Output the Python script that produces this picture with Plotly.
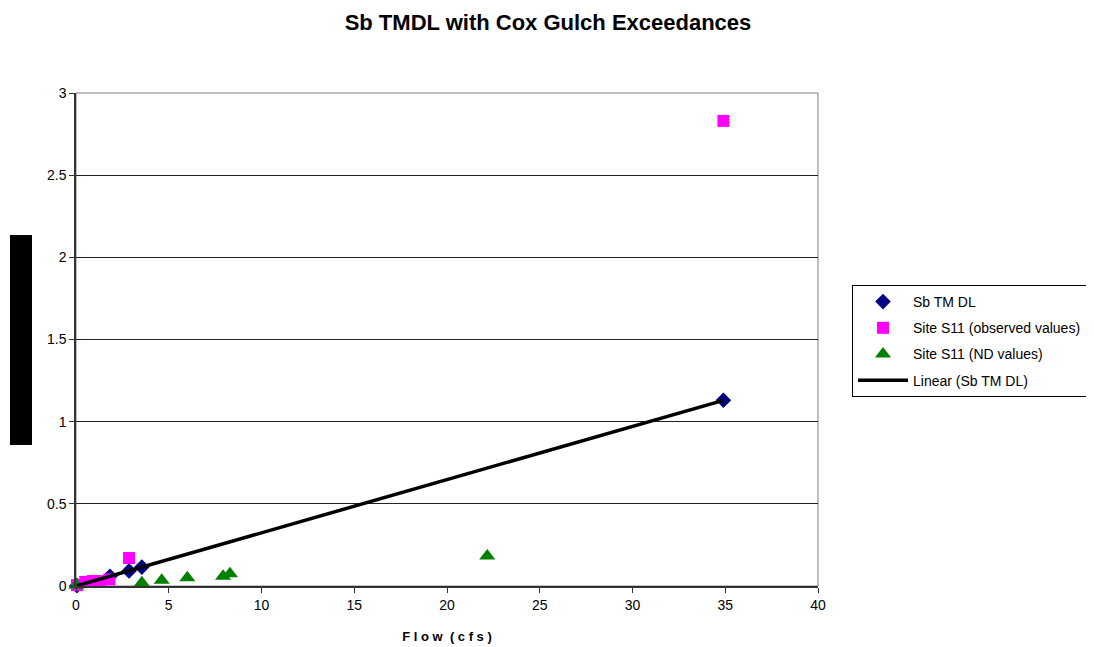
import numpy as np
import plotly.graph_objects as go

# ---- data ----
tmdl_flow = [0.05, 1.83, 2.86, 3.55, 34.9]
tmdl_load = [0.002, 0.059, 0.092, 0.115, 1.13]

obs_flow = [0.05, 0.5, 0.9, 1.3, 1.8, 2.86, 34.9]
obs_load = [0.005, 0.025, 0.03, 0.03, 0.04, 0.17, 2.83]

nd_flow = [0.02, 3.55, 4.62, 6.0, 7.93, 8.3, 22.17]
nd_load = [0.005, 0.02, 0.035, 0.05, 0.06, 0.075, 0.183]

x_ticks = [0, 5, 10, 15, 20, 25, 30, 35, 40]
y_ticks = [0, 0.5, 1, 1.5, 2, 2.5, 3]
y_tick_labels = ["0", "0.5", "1", "1.5", "2", "2.5", "3"]

# linear trendline of the TMDL series
slope, intercept = np.polyfit(tmdl_flow, tmdl_load, 1)
trend_x = [min(tmdl_flow), max(tmdl_flow)]
trend_y = [slope * v + intercept for v in trend_x]

FONT = "Arial, Liberation Sans, sans-serif"

# page offset of the plot (browser body margin of 8 px)
OFF = 8
W, H = 1094, 647
PL, PR, PT, PB = 76 - OFF, 818 - OFF, 93 - OFF, 586 - OFF
PW, PH = PR - PL, PB - PT

fig = go.Figure()
fig.add_trace(go.Scatter(x=tmdl_flow, y=tmdl_load, mode="markers", name="Sb TM DL",
                         marker=dict(symbol="diamond", size=12, color="#000080"),
                         cliponaxis=False, legendgroup="a"))
fig.add_trace(go.Scatter(x=obs_flow, y=obs_load, mode="markers", name="Site S11 (observed values)",
                         marker=dict(symbol="square", size=12, color="#FF00FF"),
                         cliponaxis=False, legendgroup="b"))
fig.add_trace(go.Scatter(x=nd_flow, y=nd_load, mode="markers", name="Site S11 (ND values)",
                         marker=dict(symbol="triangle-up", size=14, color="#008000"),
                         cliponaxis=False, legendgroup="c"))
fig.add_trace(go.Scatter(x=trend_x, y=trend_y, mode="lines", name="Linear (Sb TM DL)",
                         line=dict(color="black", width=3.5),
                         cliponaxis=False, legendgroup="d"))

fig.update_layout(
    width=W, height=H,
    paper_bgcolor="white", plot_bgcolor="white",
    margin=dict(l=PL, r=W - PR, t=PT, b=H - PB, autoexpand=False),
    font=dict(family=FONT, size=14, color="black"),
    title=dict(text="<b>Sb TMDL with Cox Gulch Exceedances</b>",
               x=(548 - OFF) / W, xanchor="center", xref="container",
               y=1 - (22 - OFF) / H, yanchor="middle", yref="container",
               font=dict(size=22, family=FONT, color="black")),
    showlegend=True,
    legend=dict(x=(852 - 76) / 742, y=(586 - 285) / 493, xanchor="left", yanchor="top",
                bordercolor="black", borderwidth=1, bgcolor="white",
                font=dict(size=14, family=FONT, color="black"),
                itemwidth=50, tracegroupgap=5, traceorder="grouped"),
    xaxis=dict(range=[0, 40], tickvals=x_ticks, showgrid=False, zeroline=False,
               showline=True, linecolor="#333333", linewidth=1.5, mirror=False,
               ticks="outside", ticklen=5, tickcolor="#333333",
               tickfont=dict(size=14, color="black"),
               title=dict(text="<b>F l o w  ( c f s )</b>", font=dict(size=13, color="black"),
                          standoff=20)),
    yaxis=dict(range=[0, 3], tickvals=y_ticks, ticktext=y_tick_labels,
               showgrid=True, gridcolor="#222222", gridwidth=1, zeroline=False,
               showline=True, linecolor="#333333", linewidth=1.5,
               ticks="outside", ticklen=5, tickcolor="#333333",
               tickfont=dict(size=14, color="black")),
    shapes=[
        # plot area border
        dict(type="rect", xref="paper", yref="paper", x0=0, y0=0, x1=1, y1=1,
             line=dict(color="#808080", width=1), layer="below"),
        # black block at the left (covers the y axis title)
        dict(type="rect", xref="paper", yref="paper",
             x0=(10 - 76) / 742, x1=(32 - 76) / 742,
             y0=(586 - 445) / 493, y1=(586 - 235) / 493,
             fillcolor="black", line=dict(width=0)),
    ],
)

fig.write_html("out.html")
